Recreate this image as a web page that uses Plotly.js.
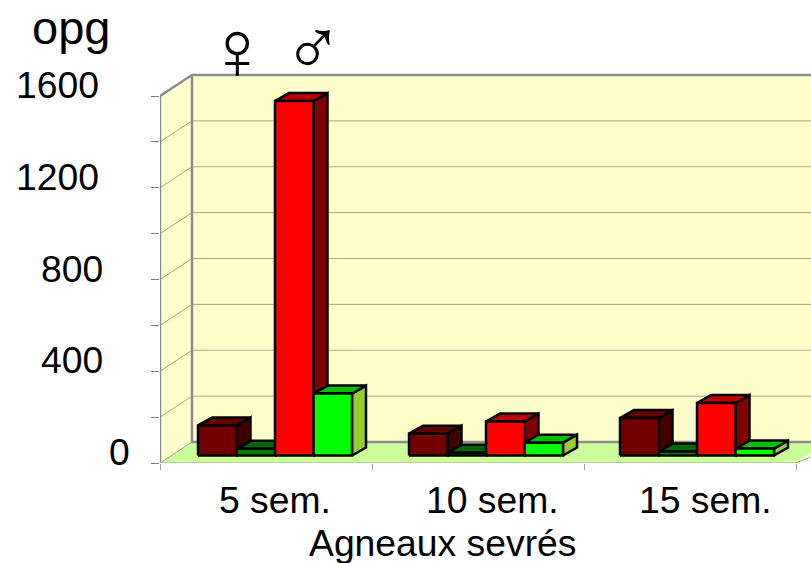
<!DOCTYPE html>
<html><head><meta charset="utf-8">
<script src="https://cdn.plot.ly/plotly-3.0.1.min.js"></script>
<style>html,body{margin:0;padding:0;background:#fff;overflow:hidden}</style>
</head><body><div id="chart" style="width:811px;height:563px"></div>
<script>
// --- data ---
const categories = ["5 sem.", "10 sem.", "15 sem."];
const femaleDark = [131, 95, 163];
const femaleGreen = [29, 12, 17];
const maleRed = [1545, 148, 229];
const maleGreen = [270, 56, 30];
const yLabels = ["0", "400", "800", "1200", "1600"];
const yLabelValues = [0, 400, 800, 1200, 1600];
const yLabelRight = [131, 104, 104, 100, 100];
const catLabelCenter = [275, 492, 705];
const gridValues = [200, 400, 600, 800, 1000, 1200, 1400, 1600];

// --- geometry of the pseudo 3D box, expressed in pixels and converted to data units ---
const W = 811, H = 563, L = 160, B = 100, T = 70, CAT = 212, PXU = 367 / 1600;
const ux = p => p / CAT, uy = p => p / PXU;
const wallDX = ux(32), wallDY = uy(21);
const barW = ux(38.5), barDX = ux(14), barDY = uy(8);
const baseX = ux(38), baseY = uy(7.5), groupStep = 211 / 212;

const series = [
  {v: femaleDark,  front: "#730000", top: "#600000", side: "#400000"},
  {v: femaleGreen, front: "#008000", top: "#006600", side: "#004d00"},
  {v: maleRed,     front: "#ff0000", top: "#c00000", side: "#800000"},
  {v: maleGreen,   front: "#00ff00", top: "#00c000", side: "#99cc33"}
];

const traces = [];
function poly(xs, ys, fill, line, width) {
  traces.push({type: "scatter", mode: "lines", x: xs, y: ys, fill: "toself", fillcolor: fill,
    line: {color: line, width: width}, hoverinfo: "skip", showlegend: false, cliponaxis: true});
}
function lines(xs, ys, color, width) {
  traces.push({type: "scatter", mode: "lines", x: xs, y: ys, line: {color: color, width: width},
    hoverinfo: "skip", showlegend: false, connectgaps: false});
}
const xMax = 3 + wallDX, yMax = 1600 + wallDY;
// side wall, back wall, floor
poly([0, wallDX, wallDX, 0, 0], [0, wallDY, yMax, 1600, 0], "#ffffcc", "rgba(0,0,0,0)", 0);
poly([wallDX, xMax, xMax, wallDX, wallDX], [wallDY, wallDY, yMax, yMax, wallDY], "#ffffcc", "rgba(0,0,0,0)", 0);
poly([0, 3, xMax, wallDX, 0], [0, 0, wallDY, wallDY, 0], "#ccff99", "rgba(0,0,0,0)", 0);
// grid lines on walls
const gx = [], gy = [];
gridValues.forEach(v => {
  if (v < 1600) { gx.push(0, wallDX, xMax, null); gy.push(v, v + wallDY, v + wallDY, null); }
});
lines(gx, gy, "#a8a880", 1);
// wall outlines
lines([0, 0, wallDX, wallDX, xMax], [0, 1600, yMax, wallDY, wallDY], "#8c8c8c", 2.5);
lines([wallDX, xMax], [yMax, yMax], "#8c8c8c", 2.5);
lines([wallDX, 0, 3, xMax], [wallDY, 0, 0, wallDY * 0.62], "#a0a0a0", 1);

// bars, painter's order
series.forEach((s, si) => {
  const fx = [], fy = [], tx = [], ty = [], sx = [], sy = [];
  s.v.forEach((val, ci) => {
    const x0 = ci * groupStep + baseX + si * barW, x1 = x0 + barW, y0 = baseY, y1 = baseY + val;
    fx.push(x0, x1, x1, x0, x0, null); fy.push(y0, y0, y1, y1, y0, null);
    tx.push(x0, x1, x1 + barDX, x0 + barDX, x0, null);
    ty.push(y1, y1, y1 + barDY, y1 + barDY, y1, null);
    sx.push(x1, x1 + barDX, x1 + barDX, x1, x1, null);
    sy.push(y0, y0 + barDY, y1 + barDY, y1, y0, null);
  });
  poly(sx, sy, s.side, "#000000", 2.5);
  poly(tx, ty, s.top, "#000000", 2.5);
  poly(fx, fy, s.front, "#000000", 2.5);
});

const plotW = W - L, plotH = H - T - B;
const px = x => (x - L) / plotW, py = y => (H - B - y) / plotH;
const FONT = "Liberation Sans, Arial, sans-serif";
const ann = (text, x, y, size, xanchor, family) => ({text, x: px(x), y: py(y), xref: "paper", yref: "paper",
  xanchor: xanchor, yanchor: "middle", showarrow: false, borderpad: 0,
  font: {family: family || FONT, size: size, color: "#000"}});
const annotations = [];
yLabels.forEach((t, i) => annotations.push(
  ann(t, yLabelRight[i], H - B - yLabelValues[i] * PXU - 11, 37.3, "right")));
categories.forEach((t, i) => annotations.push(ann(t, catLabelCenter[i], 500, 37.3, "center")));
annotations.push(ann("Agneaux sevrés", 442, 543, 37.3, "center"));
annotations.push(ann("opg", 71, 27, 47, "center"));
annotations.push(ann("♀", 237, 50, 84, "center"));
annotations.push(ann("♂", 313, 47, 80, "center"));

const layout = {
  width: W, height: H, margin: {l: L, r: 0, t: T, b: B, pad: 0},
  paper_bgcolor: "#fff", plot_bgcolor: "#fff", showlegend: false,
  xaxis: {range: [0, plotW / CAT], tickmode: "array", tickvals: [0, 1, 2, 3], showticklabels: false,
    ticks: "outside", ticklen: 6, tickcolor: "#a0a0a0", tickwidth: 1, showgrid: false, zeroline: false, showline: false, fixedrange: true},
  yaxis: {range: [0, plotH / PXU], tickmode: "array", tickvals: [0].concat(gridValues), showticklabels: false,
    ticks: "outside", ticklen: 8, tickcolor: "#808080", tickwidth: 1, showgrid: false, zeroline: false, showline: false, fixedrange: true},
  annotations: annotations
};
Plotly.newPlot("chart", traces, layout, {displayModeBar: false, staticPlot: true});
</script></body></html>
